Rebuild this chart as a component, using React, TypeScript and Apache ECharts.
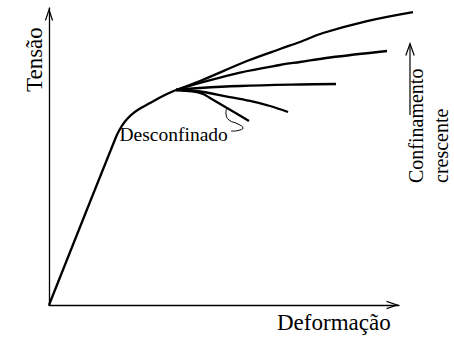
import React, { useEffect, useRef } from "react";
import * as echarts from "echarts";

// Schematic stress–strain curves (arbitrary units; visible axes span 0..100)
const riseX = [0, 19.14, 20.29, 21.71, 23.43, 26.0, 28.86, 31.71, 34.0, 36.29];
const riseY = [0, 56.57, 59.26, 61.78, 63.97, 66.16, 68.01, 69.87, 71.21, 72.39];

const conf3X = [36.29, 43.14, 56.57, 66.0, 71.71, 78.29, 90.86, 104.0];
const conf3Y = [72.39, 75.42, 82.15, 86.2, 88.55, 91.58, 95.62, 98.65];

const conf2X = [36.29, 43.14, 54.57, 66.0, 71.71, 80.29, 96.57];
const conf2Y = [72.39, 74.75, 78.28, 80.81, 81.82, 83.33, 85.52];

const conf1X = [36.29, 43.14, 54.57, 71.71, 82.0];
const conf1Y = [72.39, 73.06, 73.74, 74.24, 74.41];

const conf0X = [36.29, 43.14, 50.86, 57.43, 63.14, 68.29];
const conf0Y = [72.39, 71.89, 70.2, 68.69, 67.0, 64.98];

const unconfX = [36.29, 40.86, 44.0, 46.0, 50.86, 57.14];
const unconfY = [72.39, 71.89, 71.04, 69.7, 66.33, 61.95];

const branches = [
  { name: "Confinamento 3", xs: conf3X, ys: conf3Y },
  { name: "Confinamento 2", xs: conf2X, ys: conf2Y },
  { name: "Confinamento 1", xs: conf1X, ys: conf1Y },
  { name: "Confinamento 0", xs: conf0X, ys: conf0Y },
  { name: "Desconfinado", xs: unconfX, ys: unconfY },
];

const xLabel = "Deformação";
const yLabel = "Tensão";
const unconfLabel = "Desconfinado";
const arrowLabel1 = "Confinamento";
const arrowLabel2 = "crescente";

const SERIF = "Liberation Serif";
const CHEVRON = "path://M4.25,0 L8.5,12.5 L7.2,12.5 L4.25,3.8 L1.3,12.5 L0,12.5 Z";

function zip(xs: number[], ys: number[]) {
  return xs.map((x, i) => [x, ys[i]]);
}

function txt(text: string, size: number, x: number, y: number, rotated: boolean) {
  return {
    type: "text",
    x,
    y,
    rotation: rotated ? Math.PI / 2 : 0,
    style: {
      text,
      fontSize: size,
      fontFamily: SERIF,
      fill: "#000",
      textAlign: "left",
      textVerticalAlign: "middle",
    },
  };
}

export default function App() {
  const ref = useRef<HTMLDivElement>(null);

  useEffect(() => {
    if (!ref.current) return;
    const chart = echarts.init(ref.current, undefined, { renderer: "svg" });
    const lineCommon = {
      type: "line" as const,
      xAxisIndex: 1,
      yAxisIndex: 1,
      showSymbol: false,
      symbol: "none",
      smooth: 0.35,
      clip: false,
      silent: true,
      lineStyle: { color: "#000", width: 2.3 },
    };
    const axisCommon = {
      type: "value" as const,
      min: 0,
      max: 100,
      axisTick: { show: false },
      axisLabel: { show: false },
      splitLine: { show: false },
      axisLine: {
        show: true,
        symbol: ["none", CHEVRON],
        symbolSize: [8.5, 12.5],
        symbolOffset: [0, -6.25],
        lineStyle: { color: "#000", width: 1.3 },
      },
    };
    const hiddenAxis = { type: "value" as const, min: 0, show: false };
    chart.setOption({
      animation: false,
      backgroundColor: "#fff",
      textStyle: { fontFamily: SERIF },
      grid: [
        { left: 49, right: 55, top: 8, bottom: 33, containLabel: false },
        // same scale as the visible axes (3.5 px per unit), extended to the right
        { left: 49, right: 20, top: 8, bottom: 33, containLabel: false },
      ],
      xAxis: [
        { ...axisCommon, gridIndex: 0 },
        { ...hiddenAxis, gridIndex: 1, max: 110 },
      ],
      yAxis: [
        { ...axisCommon, gridIndex: 0 },
        { ...hiddenAxis, gridIndex: 1, max: 100 },
      ],
      series: [
        { ...lineCommon, name: "Elástico", data: zip(riseX, riseY) },
        ...branches.map((b) => ({ ...lineCommon, name: b.name, data: zip(b.xs, b.ys) })),
      ],
      graphic: [
        txt(yLabel, 23, 34.2, 92, true),
        txt(xLabel, 23, 277, 322.5, false),
        txt(unconfLabel, 19.5, 119.5, 134.5, false),
        {
          type: "polyline",
          shape: {
            points: [
              [227, 107.5],
              [226, 114],
              [229, 120],
              [238, 124],
              [243, 128],
              [238, 130.5],
              [231, 131],
            ],
            smooth: 0.5,
          },
          style: { stroke: "#000", lineWidth: 1, fill: "none" },
        },
        {
          type: "line",
          shape: { x1: 410, y1: 115, x2: 410, y2: 44 },
          style: { stroke: "#000", lineWidth: 1.2 },
        },
        {
          type: "polyline",
          shape: { points: [[405.8, 55.5], [410, 43.5], [414.2, 55.5]] },
          style: { stroke: "#000", lineWidth: 1.2, fill: "none" },
        },
        txt(arrowLabel1, 20, 416.3, 183, true),
        txt(arrowLabel2, 20, 441.3, 183, true),
      ],
    });
    return () => chart.dispose();
  }, []);

  return (
    <div
      ref={ref}
      style={{ position: "fixed", left: 0, top: 0, width: 454, height: 338, background: "#fff" }}
    />
  );
}
